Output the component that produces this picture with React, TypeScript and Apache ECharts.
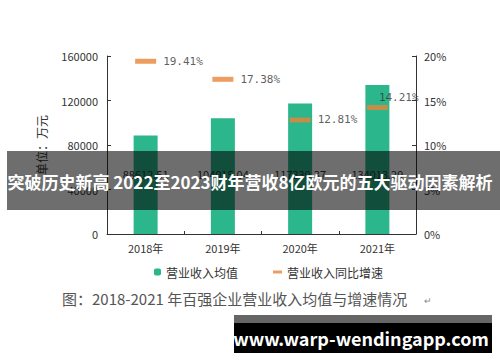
import React, { useEffect, useRef } from "react";
import * as echarts from "echarts";

const years = ["2018年", "2019年", "2020年", "2021年"];
const revenueAvg = [88612.51, 104015.04, 117339.37, 134013.29];
const growthRate = [19.41, 17.38, 12.81, 14.21];
const leftTicks = { min: 0, max: 160000, interval: 40000 };
const rightTicks = { min: 0, max: 20, interval: 5 };
const barName = "营业收入均值";
const lineName = "营业收入同比增速";
const bannerText = "突破历史新高 2022至2023财年营收8亿欧元的五大驱动因素解析";
const captionText = "图：2018-2021 年百强企业营业收入均值与增速情况";
const watermarkText = "www.warp-wendingapp.com";

const FONT = "'Noto Sans CJK SC', 'Noto Sans', sans-serif";

export default function App() {
  const ref = useRef<HTMLDivElement>(null);
  useEffect(() => {
    if (!ref.current) return;
    const chart = echarts.init(ref.current, undefined, { renderer: "svg" });
    chart.setOption({
      animation: false,
      backgroundColor: "#ffffff",
      textStyle: { fontFamily: FONT },
      grid: { left: 107, right: 84, top: 56, bottom: 128, containLabel: false },
      legend: [
        {
          data: [barName],
          left: 149,
          top: 261,
          itemWidth: 7,
          itemHeight: 7,
          itemGap: 5,
          textStyle: { fontSize: 12, color: "#333", fontFamily: FONT },
        },
        {
          data: [lineName],
          left: 268,
          top: 261,
          itemWidth: 9,
          itemHeight: 3,
          itemGap: 3,
          textStyle: { fontSize: 12, color: "#333", fontFamily: FONT },
        },
      ],
      xAxis: {
        type: "category",
        data: years,
        boundaryGap: true,
        axisLine: { show: true, lineStyle: { color: "#333", width: 1 } },
        axisTick: { show: true, inside: true, length: 3, lineStyle: { color: "#333" } },
        axisLabel: { fontSize: 11, color: "#333", margin: 8 },
      },
      yAxis: [
        {
          type: "value",
          ...leftTicks,
          name: "单位：万元",
          nameLocation: "middle",
          nameRotate: 90,
          nameGap: 60,
          nameTextStyle: { fontSize: 12, color: "#333" },
          axisLine: { show: true, lineStyle: { color: "#333" } },
          axisTick: { show: true, inside: true, length: 4, lineStyle: { color: "#333" } },
          axisLabel: {
            fontSize: 11,
            color: "#333",
            margin: 9,
            formatter: (v: number) => String(v),
          },
          splitLine: { show: false },
        },
        {
          type: "value",
          ...rightTicks,
          position: "right",
          axisLine: { show: true, lineStyle: { color: "#333" } },
          axisTick: { show: true, inside: true, length: 4, lineStyle: { color: "#333" } },
          axisLabel: { fontSize: 11, color: "#333", margin: 8, formatter: "{value}%" },
          splitLine: { show: false },
        },
      ],
      series: [
        {
          name: barName,
          type: "bar",
          data: revenueAvg,
          barWidth: 24,
          itemStyle: { color: "#2bb68b" },
          label: {
            show: true,
            position: "insideBottom",
            distance: 55,
            fontSize: 11,
            color: "#333",
            formatter: (p: any) => p.value.toFixed(2),
          },
          z: 2,
        },
        {
          name: lineName,
          type: "scatter",
          yAxisIndex: 1,
          symbol: "rect",
          symbolSize: [21, 5],
          itemStyle: { color: "#e8843a" },
          data: growthRate.map((v, i) =>
            i === 3
              ? {
                  value: v,
                  label: { position: [12, -8], align: "left", verticalAlign: "middle" },
                }
              : v
          ),
          label: {
            show: true,
            position: "right",
            distance: 7,
            fontSize: 11,
            color: "#333",
            fontFamily: "'DejaVu Sans Mono', monospace",
            formatter: (p: any) => p.value.toFixed(2) + "%",
          },
          z: 3,
        },
      ],
      graphic: [
        {
          type: "rect",
          z: 100,
          shape: { x: 7, y: 151, width: 493, height: 59 },
          style: { fill: "rgba(0,0,0,0.57)" },
        },
        {
          type: "text",
          z: 101,
          x: 250,
          y: 181,
          style: {
            text: bannerText,
            fill: "#ffffff",
            font: `bold 17px ${FONT}`,
            textAlign: "center",
            textVerticalAlign: "middle",
          },
        },
        {
          type: "text",
          z: 101,
          x: 62,
          y: 298,
          style: {
            text: captionText,
            fill: "#555",
            font: `15px ${FONT}`,
            textAlign: "left",
            textVerticalAlign: "middle",
          },
        },
        {
          type: "text",
          z: 101,
          x: 424,
          y: 300,
          style: {
            text: "↵",
            fill: "#888",
            font: `9px ${FONT}`,
            textAlign: "left",
            textVerticalAlign: "middle",
          },
        },
        {
          type: "rect",
          z: 100,
          shape: { x: 234, y: 315, width: 258, height: 8 },
          style: { fill: "#666666" },
        },
        {
          type: "rect",
          z: 100,
          shape: { x: 234, y: 323, width: 258, height: 30 },
          style: { fill: "#000000" },
        },
        {
          type: "text",
          z: 101,
          x: 361,
          y: 338,
          style: {
            text: watermarkText,
            fill: "#ffffff",
            font: `bold 18px ${FONT}`,
            textAlign: "center",
            textVerticalAlign: "middle",
          },
        },
      ],
    });
    return () => chart.dispose();
  }, []);
  return (
    <div
      ref={ref}
      style={{ position: "fixed", left: 0, top: 0, width: 500, height: 362, background: "#fff" }}
    />
  );
}
